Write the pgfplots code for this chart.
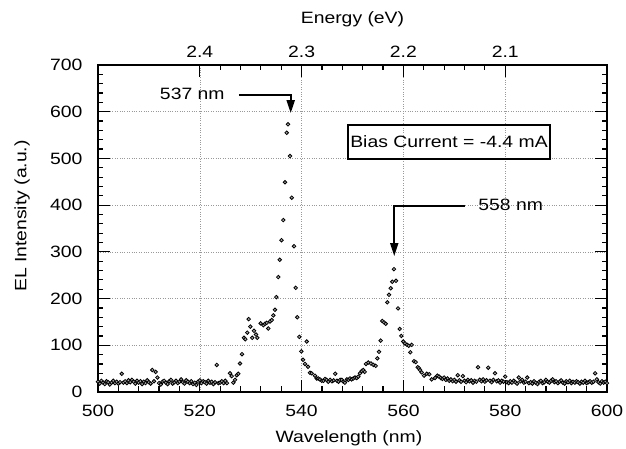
\documentclass[border=0pt]{standalone}
\usepackage{fontspec}
\setmainfont{Liberation Sans}[FakeStretch=1.18]
\usepackage{pgfplots}
\pgfplotsset{compat=1.18}
\usepackage{pgfplotstable}
\usetikzlibrary{arrows.meta}
\newcommand\fs{\fontsize{16.4}{19}\selectfont}

\pgfplotstableread[row sep=\\]{
x y\\
500.00 22\\ 500.33 18\\ 500.67 24\\ 501.00 20\\ 501.33 17\\ 501.67 23\\ 502.00 21\\ 502.33 16\\ 502.67 20\\ 503.00 24\\
503.33 19\\ 503.67 22\\ 504.00 18\\ 504.33 21\\ 504.67 39\\ 505.00 20\\ 505.33 23\\ 505.67 19\\ 506.00 25\\ 506.33 21\\
506.67 26\\ 507.00 22\\ 507.33 18\\ 507.67 24\\ 508.00 20\\ 508.33 23\\ 508.67 17\\ 509.00 22\\ 509.33 19\\ 509.67 25\\
510.00 21\\ 510.33 18\\ 510.67 47\\ 511.00 23\\ 511.33 43\\ 511.67 31\\ 512.00 19\\ 512.33 16\\ 512.67 22\\ 513.00 24\\
513.33 20\\ 513.67 17\\ 514.00 23\\ 514.33 26\\ 514.67 18\\ 515.00 21\\ 515.33 24\\ 515.67 19\\ 516.00 22\\ 516.33 27\\
516.67 21\\ 517.00 18\\ 517.33 25\\ 517.67 22\\ 518.00 19\\ 518.33 23\\ 518.67 17\\ 519.00 20\\ 519.33 15\\ 519.67 22\\
520.00 25\\ 520.33 19\\ 520.67 23\\ 521.00 21\\ 521.33 18\\ 521.67 24\\ 522.00 20\\ 522.33 22\\ 522.67 17\\ 523.00 21\\
523.33 58\\ 523.67 19\\ 524.00 20\\ 524.33 23\\ 524.67 19\\ 525.00 24\\ 525.33 19\\
525.93 40\\ 526.27 34\\ 526.58 20\\ 526.92 26\\ 527.25 36\\ 527.56 39\\ 527.90 61\\ 528.29 81\\ 528.68 116\\ 528.94 113\\
529.33 127\\ 529.61 156\\ 529.92 140\\ 530.31 116\\ 530.65 131\\ 531.04 123\\ 531.30 116\\ 531.96 147\\ 532.48 143\\ 532.81 146\\
533.14 148\\ 533.46 136\\ 533.79 151\\ 534.13 154\\ 534.44 164\\ 534.77 176\\ 535.03 203\\ 535.42 246\\ 535.70 283\\ 536.05 325\\
536.40 368\\ 536.74 449\\ 537.07 555\\ 537.33 573\\ 537.72 505\\ 538.06 416\\ 538.51 312\\ 538.84 223\\ 539.16 160\\ 539.55 118\\
539.94 87\\ 540.28 69\\ 540.67 60\\ 541.00 108\\ 541.26 54\\ 541.65 41\\ 541.98 40\\ 542.63 35\\ 542.97 29\\ 543.28 29\\
543.60 27\\ 543.95 24\\ 544.30 24\\ 544.60 28\\ 544.90 26\\ 545.25 22\\ 545.60 26\\ 545.95 23\\ 546.30 25\\ 546.60 39\\
546.95 24\\ 547.25 22\\ 547.55 26\\ 547.90 26\\ 548.20 22\\ 548.50 20\\ 548.90 27\\ 549.20 26\\ 549.51 29\\ 549.84 27\\
550.16 29\\ 550.49 31\\ 550.82 30\\ 551.14 33\\ 551.47 40\\ 551.80 45\\ 552.10 47\\ 552.40 43\\ 552.65 60\\ 553.10 63\\
553.63 61\\ 554.09 58\\ 554.56 56\\ 554.87 72\\ 555.21 86\\ 555.54 110\\ 555.86 152\\ 556.19 149\\ 556.52 146\\ 556.84 192\\
557.17 208\\ 557.50 222\\ 557.82 236\\ 558.15 263\\ 558.55 238\\ 558.94 179\\ 559.27 135\\ 559.59 120\\ 559.98 108\\ 560.31 104\\
560.71 101\\ 561.04 99\\ 561.36 85\\ 561.63 101\\ 562.08 66\\ 562.42 64\\ 562.81 53\\ 563.06 51\\ 563.26 47\\ 563.60 42\\
564.05 35\\ 564.58 39\\ 565.09 38\\ 565.56 27\\ 566.21 30\\ 566.67 35\\
567.00 33\\ 567.33 30\\ 567.67 28\\ 568.00 31\\ 568.33 26\\ 568.67 29\\ 569.00 24\\ 569.33 27\\ 569.67 23\\ 570.00 26\\
570.33 22\\ 570.67 36\\ 571.00 25\\ 571.33 22\\ 571.67 34\\ 572.00 24\\ 572.33 21\\ 572.67 26\\ 573.00 23\\ 573.33 25\\
573.67 20\\ 574.00 24\\ 574.33 22\\ 574.67 53\\ 575.00 26\\ 575.33 23\\ 575.67 27\\ 576.00 22\\ 576.33 25\\ 576.67 52\\
577.00 24\\ 577.33 21\\ 577.67 26\\ 578.00 40\\ 578.33 23\\ 578.67 25\\ 579.00 20\\ 579.33 24\\ 579.67 22\\ 580.00 33\\
580.33 21\\ 580.67 19\\ 581.00 23\\ 581.33 20\\ 581.67 24\\ 582.00 21\\ 582.33 18\\ 582.67 31\\ 583.00 23\\ 583.33 26\\
583.67 20\\ 584.00 22\\ 584.33 31\\ 584.67 19\\ 585.00 21\\ 585.33 18\\ 585.67 23\\ 586.00 20\\ 586.33 17\\ 586.67 22\\
587.00 24\\ 587.33 19\\ 587.67 21\\ 588.00 26\\ 588.33 22\\ 588.67 20\\ 589.00 24\\ 589.33 27\\ 589.67 21\\ 590.00 23\\
590.33 19\\ 590.67 22\\ 591.00 25\\ 591.33 20\\ 591.67 18\\ 592.00 23\\ 592.33 21\\ 592.67 24\\ 593.00 19\\ 593.33 22\\
593.67 20\\ 594.00 23\\ 594.33 21\\ 594.67 18\\ 595.00 22\\ 595.33 20\\ 595.67 24\\ 596.00 19\\ 596.33 21\\ 596.67 23\\
597.00 20\\ 597.33 22\\ 597.67 40\\ 598.00 27\\ 598.33 21\\ 598.67 18\\ 599.00 23\\ 599.33 20\\ 599.67 22\\ 600.00 19\\
}\spectrum

\begin{document}
\begin{tikzpicture}[font=\fs]
\begin{axis}[
  width=509pt, height=327pt, scale only axis,
  xmin=500, xmax=600, ymin=0, ymax=700,
  xtick={500,520,...,600}, ytick={0,100,...,700},
  minor x tick num=4, minor y tick num=4,
  tick align=inside, xtick pos=lower, ytick pos=both,
  major tick length=12pt, minor tick length=5.5pt,
  axis line style={line width=2pt},
  every tick/.style={black, line width=1.2pt},
  grid=major, major grid style={dotted, gray!80, line width=0.6pt},
  /pgf/number format/assume math mode=true,
  tick label style={font=\fs},
  label style={font=\fs},
  yticklabel style={anchor=east, xshift=-12pt},
  xticklabel style={anchor=north, yshift=-10pt},
  xlabel={Wavelength (nm)},
  ylabel={EL Intensity (a.u.)},
  xlabel style={at={(axis description cs:0.493,-0.14)}, anchor=center},
  ylabel style={at={(axis description cs:-0.149,0.538)}, anchor=center},
  clip=false,
]
\addplot[only marks, mark=*, mark size=1.8pt, mark options={fill=black!35, draw=black, line width=0.8pt}] table {\spectrum};
\draw[line width=2pt, -{Triangle[length=13pt, width=8pt]}] (axis cs:527.7,636) -| (axis cs:537.86,597);
\node[anchor=east, inner sep=0pt] at (axis cs:524.9,638) {537 nm};
\draw[line width=2pt, -{Triangle[length=13pt, width=8pt]}] (axis cs:572.1,398) -| (axis cs:558.2,291);
\node[anchor=west, inner sep=0pt] at (axis cs:574.7,400) {558 nm};
\node[draw, line width=2.2pt, minimum width=202pt, minimum height=34pt, inner sep=0pt] at (axis cs:568.96,535) {Bias Current = -4.4 mA};
\end{axis}
\begin{axis}[
  width=509pt, height=327pt, scale only axis,
  xmin=500, xmax=600, ymin=0, ymax=700,
  axis x line*=top, axis y line=none,
  xtick={520,540,560,580}, xticklabels={2.4,2.3,2.2,2.1},
  minor x tick num=4, tick align=inside,
  major tick length=12pt, minor tick length=5.5pt,
  axis line style={line width=2pt},
  every tick/.style={black, line width=1.2pt},
  tick label style={font=\fs},
  xticklabel style={anchor=south, yshift=4pt},
  label style={font=\fs},
  xlabel={Energy (eV)},
  xlabel style={at={(axis description cs:0.5,1.14)}, anchor=center},
]
\addplot[draw=none] coordinates {(500,0) (600,700)};
\end{axis}
\pgfresetboundingbox
\path (-98pt,-57pt) rectangle (528pt,392pt);
\end{tikzpicture}
\end{document}
